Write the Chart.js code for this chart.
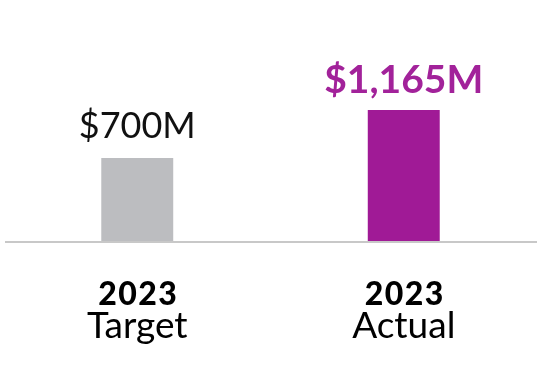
<!DOCTYPE html>
<html>
<head>
<meta charset="utf-8">
<script src="https://cdn.jsdelivr.net/npm/chart.js@4/dist/chart.umd.min.js"></script>
<style>
  html, body { margin: 0; padding: 0; background: #fff; }
  #wrap { width: 541px; height: 371px; }
</style>
</head>
<body>
<div id="wrap"><canvas id="grafico"></canvas></div>
<script>
// dados
const years = ['2023', '2023'];
const kinds = ['Target', 'Actual'];
const values = [700, 1165];
const valueLabels = ['$700M', '$1,165M'];
const barColors = ['#bcbdc0', '#a01a96'];
const yMin = -115;
const yMax = 1650;

// linha de base + rótulos acima das barras e categorias abaixo
const labelsPlugin = {
    id: 'labelsPlugin',
    afterDatasetsDraw(chart) {
        const ctx = chart.ctx;
        const meta = chart.getDatasetMeta(0);
        const xScale = chart.scales.x;
        ctx.save();
        const y = chart.chartArea.bottom;
        ctx.strokeStyle = '#c8c8c8';
        ctx.lineWidth = 2;
        ctx.beginPath();
        ctx.moveTo(5, y);
        ctx.lineTo(537, y);
        ctx.stroke();

        ctx.textAlign = 'center';
        ctx.textBaseline = 'alphabetic';
        meta.data.forEach(function(bar, i) {
            ctx.letterSpacing = '0px';
            if (i === 1) {
                ctx.font = 'bold 39px Lato';
                ctx.fillStyle = '#a2229a';
                ctx.fillText(valueLabels[i], bar.x, bar.y - 17);
            } else {
                ctx.font = '400 36px Lato';
                ctx.fillStyle = '#111';
                ctx.fillText(valueLabels[i], bar.x, bar.y - 20);
            }
            const x = xScale.getPixelForValue(i);
            ctx.fillStyle = '#000';
            ctx.font = '900 32px Lato';
            ctx.letterSpacing = '1.5px';
            ctx.fillText(years[i], x + 1, 305);
            ctx.letterSpacing = '0px';
            ctx.font = '400 37px Lato';
            ctx.fillText(kinds[i], x, 338);
        });
        ctx.restore();
    }
};

const ctx = document.getElementById('grafico').getContext('2d');
const chart = new Chart(ctx, {
    type: 'bar',
    data: {
        labels: kinds,
        datasets: [{
            data: values,
            base: yMin,
            backgroundColor: barColors,
            borderWidth: 0,
            barPercentage: 0.27,
            categoryPercentage: 1
        }]
    },
    options: {
        responsive: true,
        maintainAspectRatio: false,
        animation: false,
        layout: { padding: { top: 60, bottom: 129, left: 4, right: 4 } },
        scales: {
            x: { display: false },
            y: {
                display: false,
                min: yMin,
                max: yMax
            }
        },
        plugins: {
            legend: { display: false },
            tooltip: { enabled: false }
        }
    },
    plugins: [labelsPlugin]
});
</script>
</body>
</html>
